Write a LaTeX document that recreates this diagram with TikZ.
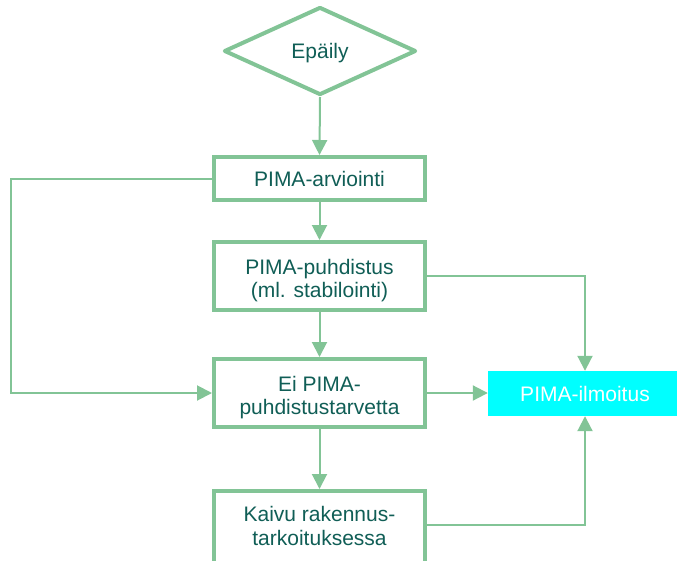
\documentclass[tikz,border=0pt]{standalone}
\usepackage{fontspec}
\setmainfont{Liberation Sans}
\usetikzlibrary{shapes.geometric,arrows.meta}
\definecolor{vihrea}{RGB}{130,196,150}
\definecolor{teksti}{RGB}{16,94,86}
\definecolor{syaani}{RGB}{0,255,255}
\newcommand{\tuki}{\rule{0pt}{24pt}}
\newcommand{\alatuki}{\rule[-6pt]{0pt}{6pt}}

\begin{document}
\begin{tikzpicture}[x=1pt,y=-1pt,>={Triangle[length=15pt,width=15pt]},
    vaihe/.style={draw=vihrea,line width=4pt,fill=white,minimum width=211pt,
      inner sep=0pt,align=center,text=teksti,font=\fontsize{21}{23.5}\selectfont},
    paatos/.style={diamond,draw=vihrea,line width=4pt,line join=round,
      minimum width=192pt,minimum height=88pt,inner sep=0pt,text=teksti,
      text depth=0pt,font=\fontsize{21}{23.5}\selectfont},
    ilmo/.style={fill=syaani,minimum width=194pt,minimum height=45pt,
      inner sep=0pt,text=white,font=\fontsize{21}{23.5}\selectfont},
    yhteys/.style={draw=vihrea,line width=2pt,->}]
    \useasboundingbox (0,0) rectangle (677,560);
    \clip (0,0) rectangle (677,560);
    \node[paatos] (epaily) at (320,51) {Epäily} ;
    \node[vaihe,minimum height=43pt] (arviointi) at (319.5,178.5) {PIMA-arviointi} ;
    \node[vaihe,minimum height=68pt] (puhdistus) at (319.5,276) {\tuki PIMA-puhdistus\\(ml. stabilointi)} ;
    \node[vaihe,minimum height=68pt] (eipima)    at (319.5,393) {\tuki Ei PIMA-\\puhdistustarvetta} ;
    \node[vaihe,minimum height=76pt] (kaivu)     at (319.5,529) {Kaivu rakennus-\\tarkoituksessa\alatuki} ;
    \node[ilmo] (ilmoitus) at (585,393.5) {PIMA-ilmoitus} ;
    \coordinate (vasen) at (10.5,0) ;
    \draw[yhteys] (epaily.south) -- (arviointi.north) ;
    \draw[yhteys] (arviointi.south) -- (puhdistus.north) ;
    \draw[yhteys] (puhdistus.south) -- (eipima.north) ;
    \draw[yhteys] (eipima.south) -- (kaivu.north) ;
    \draw[yhteys] (arviointi.west) -- (arviointi.west -| vasen) |- (eipima.west) ;
    \draw[yhteys] (puhdistus.east) -| (ilmoitus.north) ;
    \draw[yhteys] (eipima.east) -- (eipima.east -| ilmoitus.west) ;
    \draw[yhteys] (kaivu.east |- 0,525) -| (ilmoitus.south) ;
  \end{tikzpicture}
\end{document}
